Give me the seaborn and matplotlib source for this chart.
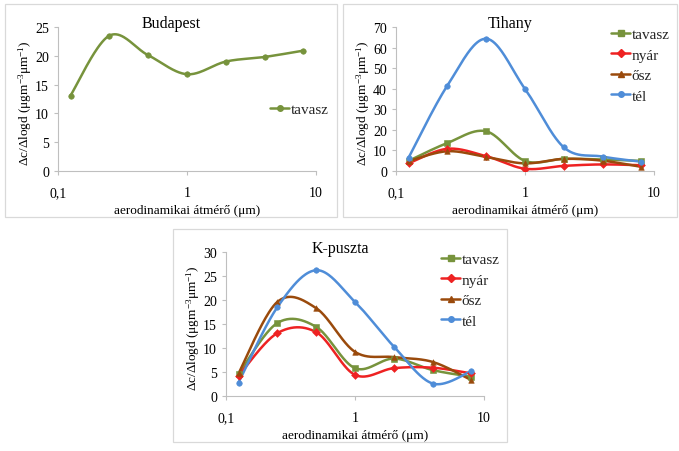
import numpy as np
import matplotlib
matplotlib.use("Agg")
import matplotlib.pyplot as plt
import seaborn as sns
from matplotlib.lines import Line2D
from matplotlib.patches import Rectangle
from matplotlib.ticker import FixedLocator, FixedFormatter, NullLocator, MultipleLocator

# ---------------- data ----------------
sizes = [0.125, 0.25, 0.5, 1, 2, 4, 8]
x_ticks = [0.1, 1, 10]
x_ticklabels = ["0,1", "1", "10"]

budapest_tavasz = [13.1, 23.5, 20.1, 16.8, 19.0, 19.8, 20.9]

tihany_tavasz = [4.9, 13.6, 19.3, 4.9, 5.9, 5.6, 4.9]
tihany_nyar = [3.7, 10.8, 7.2, 1.1, 2.5, 3.2, 2.8]
tihany_osz = [4.8, 9.6, 6.8, 3.7, 5.9, 5.0, 2.0]
tihany_tel = [6.4, 41.5, 64.3, 39.9, 11.5, 7.0, 4.5]

kpuszta_tavasz = [4.6, 15.2, 14.4, 5.8, 7.8, 5.4, 4.0]
kpuszta_nyar = [4.2, 13.1, 13.3, 4.4, 5.8, 5.9, 4.7]
kpuszta_osz = [4.7, 19.6, 18.3, 9.2, 8.1, 7.1, 3.3]
kpuszta_tel = [2.8, 18.5, 26.2, 19.6, 10.3, 2.6, 5.2]

season_labels = ["tavasz", "nyár", "ősz", "tél"]
season_colors = ["#77933C", "#EE2222", "#9A4A0C", "#4F8DD8"]
season_markers = ["s", "D", "^", "o"]

# ---------------- style ----------------
sns.set_theme(style="white")
plt.rcParams["font.family"] = ["Liberation Serif", "DejaVu Serif"]
plt.rcParams["mathtext.fontset"] = "custom"
plt.rcParams["mathtext.rm"] = "Liberation Serif"
plt.rcParams["mathtext.it"] = "Liberation Serif:italic"
plt.rcParams["mathtext.default"] = "regular"

W, H = 679, 452
fig = plt.figure(figsize=(W / 100, H / 100), dpi=100)
fig.patch.set_facecolor("white")

AX_COL = "#bfbfbf"


def smooth(xs, ys, n=40):
    lx = np.log10(np.asarray(xs, float))
    pts = np.column_stack([lx, np.asarray(ys, float)])
    P = np.vstack([pts[0], pts, pts[-1]])
    out = []
    nseg = len(P) - 3
    for i in range(1, len(P) - 2):
        p0, p1, p2, p3 = P[i - 1], P[i], P[i + 1], P[i + 2]
        c1 = p1 + (p2 - p0) / 6.0
        c2 = p2 - (p3 - p1) / 6.0
        t = np.linspace(0, 1, n, endpoint=(i == nseg))
        b = (((1 - t) ** 3)[:, None] * p1 + (3 * (1 - t) ** 2 * t)[:, None] * c1
             + (3 * (1 - t) * t ** 2)[:, None] * c2 + (t ** 3)[:, None] * p2)
        out.append(b)
    c = np.vstack(out)
    return 10 ** c[:, 0], c[:, 1]


def panel(box, title, series, ymax, ystep, leg_off, leg_spacing):
    bx0, by0, bx1, by1 = box
    # panel border
    fig.patches.append(Rectangle((bx0 / W, 1 - by1 / H), (bx1 - bx0) / W, (by1 - by0) / H,
                                 transform=fig.transFigure, fill=False,
                                 ec="#d9d9d9", lw=0.9))
    l, t, r, b = bx0 + 53, by0 + 23, bx0 + 311, by0 + 167
    ax = fig.add_axes([l / W, 1 - b / H, (r - l) / W, (b - t) / H])
    ax.set_facecolor("none")
    ax.set_xscale("log")
    handles = []
    for name, ys, color, marker in series:
        cx, cy = smooth(sizes, ys)
        sns.lineplot(x=cx, y=cy, ax=ax, color=color, lw=1.8, sort=False,
                     estimator=None, legend=False, zorder=2)
        sns.scatterplot(x=sizes, y=ys, ax=ax, color=color, marker=marker, s=16,
                        edgecolor=color, linewidth=0.4, legend=False, zorder=3)
        handles.append(Line2D([0], [0], color=color, lw=1.8, marker=marker,
                              markersize=4, markeredgecolor=color))
    ax.set_xlim(0.1, 10)
    ax.set_ylim(0, ymax)
    ax.xaxis.set_major_locator(FixedLocator(x_ticks))
    ax.xaxis.set_major_formatter(FixedFormatter(x_ticklabels))
    ax.xaxis.set_minor_locator(NullLocator())
    ax.yaxis.set_major_locator(MultipleLocator(ystep))
    for s in ["top", "right"]:
        ax.spines[s].set_visible(False)
    for s in ["left", "bottom"]:
        ax.spines[s].set_color(AX_COL)
        ax.spines[s].set_linewidth(0.8)
    ax.tick_params(axis="both", which="major", length=3, width=0.8, color=AX_COL,
                   labelsize=10, labelcolor="black", direction="out",
                   bottom=True, left=True)
    ax.tick_params(axis="x", pad=8.0)
    ax.tick_params(axis="y", pad=3.5)
    ax.set_xlabel("")
    ax.set_ylabel("")
    # title
    fig.text(((bx0 + bx1) / 2) / W, 1 - (by0 + 19) / H, title, ha="center", va="center",
             fontsize=11.5, color="black")
    # x label
    fig.text(((l + r) / 2) / W, 1 - (by0 + 206) / H, "aerodinamikai átmérő (μm)",
             ha="center", va="center", fontsize=9.5, color="black")
    # y label
    fig.text((bx0 + 20) / W, 1 - (by0 + 98) / H,
             r"Δc/Δlogd (μgm$^{-3}$μm$^{-1}$)", rotation=90,
             ha="center", va="center", fontsize=9.5, color="black")
    # legend
    lx, ly = leg_off
    fig.legend(handles, [s[0] for s in series], loc="center left",
               bbox_to_anchor=((bx0 + lx) / W, 1 - (by0 + ly) / H),
               bbox_transform=fig.transFigure, frameon=False, borderpad=0,
               borderaxespad=0, handlelength=1.25, handletextpad=0.1,
               labelspacing=leg_spacing, fontsize=11)
    return ax


four = lambda vals: list(zip(season_labels, vals, season_colors, season_markers))

panel((5, 5, 337, 218), "Budapest",
      [("tavasz", budapest_tavasz, season_colors[0], "o")], 25, 5, (265, 105), 0.45)
panel((343, 5, 677, 218), "Tihany",
      four([tihany_tavasz, tihany_nyar, tihany_osz, tihany_tel]), 70, 10, (268, 61), 0.45)
panel((173, 230, 507, 443), "K-puszta",
      four([kpuszta_tavasz, kpuszta_nyar, kpuszta_osz, kpuszta_tel]), 30, 5, (268, 61), 0.45)

fig.savefig("out.png", dpi=100, facecolor="white")
